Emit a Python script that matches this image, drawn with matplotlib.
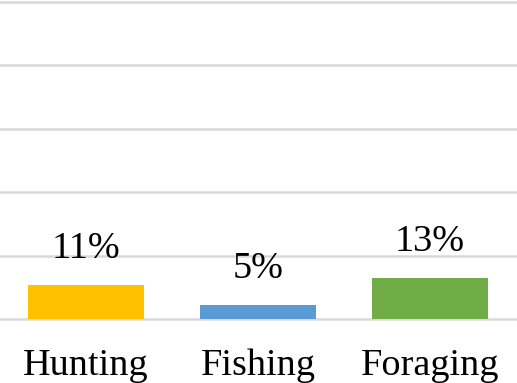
import matplotlib
matplotlib.use('Agg')
import matplotlib.pyplot as plt

categories = ['Hunting', 'Fishing', 'Foraging']
values = [10.6, 4.5, 12.8]
value_labels = ['11%', '5%', '13%']
colors = ['#FFC000', '#5B9BD5', '#70AD47']

plt.rcParams['font.family'] = ['Liberation Serif', 'DejaVu Serif']

fig = plt.figure(figsize=(5.17, 3.83), dpi=100)
ax = fig.add_axes([0.0, 1 - 319 / 383, 516 / 517, 317.5 / 383])

x = range(len(categories))
bars = ax.bar(x, values, width=0.67, color=colors, zorder=3)

ax.set_xlim(-0.5, 2.5)
ax.set_ylim(0, 100)
ax.set_yticks([0, 20, 40, 60, 80, 100])
ax.yaxis.grid(True, color='#D9D9D9', linewidth=1.8, zorder=0)
for line in ax.get_ygridlines():
    line.set_clip_on(False)
ax.tick_params(axis='y', left=False, labelleft=False)
ax.tick_params(axis='x', length=0, pad=21.5, labelsize=27.5)
ax.set_xticks(list(x))
ax.set_xticklabels(categories)
for s in ax.spines.values():
    s.set_visible(False)

for b, lab in zip(bars, value_labels):
    ax.annotate(lab, (b.get_x() + b.get_width() / 2, b.get_height()),
                xytext=(0, 19.5), textcoords='offset points',
                ha='center', va='baseline', fontsize=27.5)

fig.savefig('out.png', dpi=100)
